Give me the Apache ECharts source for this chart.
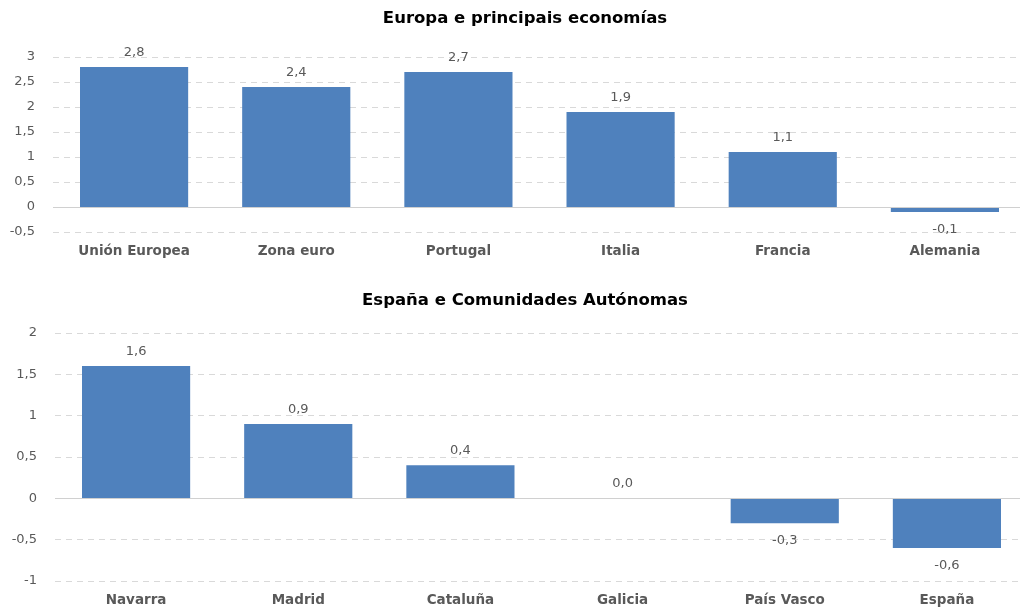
<!DOCTYPE html>
<html>
<head>
<meta charset="utf-8">
<script src="https://cdn.jsdelivr.net/npm/echarts@6/dist/echarts.min.js"></script>
<style>html,body{margin:0;padding:0;background:#fff}#c{width:1020px;height:607px}</style>
</head>
<body>
<div id="c"></div>
<script>
const titleTop = 'Europa e principais economías';
const titleBottom = 'España e Comunidades Autónomas';
const catsTop = ['Unión Europea', 'Zona euro', 'Portugal', 'Italia', 'Francia', 'Alemania'];
const valsTop = [2.8, 2.4, 2.7, 1.9, 1.1, -0.1];
const catsBottom = ['Navarra', 'Madrid', 'Cataluña', 'Galicia', 'País Vasco', 'España'];
const valsBottom = [1.6, 0.9, 0.4, 0.0, -0.3, -0.6];

const FONT = 'DejaVu Sans';
const GRAY = '#595959';
const BAR = '#4F81BD';
const comma = v => String(v).replace('.', ',');
const fmt1 = v => v.toFixed(1).replace('.', ',');

function items(vals) {
  return vals.map(v => ({ value: v, label: v < 0 ? { position: 'bottom', distance: 11 } : { position: 'top', distance: 8 } }));
}

function yAx(gi, min, max) {
  return {
    gridIndex: gi, type: 'value', min: min, max: max, interval: 0.5,
    axisLine: { show: false }, axisTick: { show: false },
    axisLabel: { color: GRAY, fontFamily: FONT, fontSize: 13, margin: 18, formatter: comma },
    splitLine: { lineStyle: { color: '#d9d9d9', type: [6, 5], width: 1 } }
  };
}
function xAx(gi, cats) {
  return {
    gridIndex: gi, type: 'category', data: cats,
    axisLine: { show: false, onZero: false }, axisTick: { show: false },
    axisLabel: { color: GRAY, fontFamily: FONT, fontSize: 13.5, fontWeight: 'bold', margin: 12, interval: 0 }
  };
}
function ser(i, vals) {
  return {
    type: 'bar', xAxisIndex: i, yAxisIndex: i, data: items(vals),
    barCategoryGap: '33.3%',
    itemStyle: { color: BAR },
    label: { show: true, color: GRAY, fontFamily: FONT, fontSize: 13, formatter: p => fmt1(p.value) },
    markLine: {
      silent: true, symbol: 'none', label: { show: false },
      lineStyle: { color: '#d0d0d0', type: 'solid', width: 1 },
      data: [{ yAxis: 0 }]
    },
    animation: false
  };
}

const chart = echarts.init(document.getElementById('c'), null, { renderer: 'canvas' });
chart.setOption({
  animation: false,
  backgroundColor: '#fff',
  title: [
    { text: titleTop, left: 520, textAlign: 'center', top: 5, textStyle: { fontFamily: FONT, fontSize: 16.5, fontWeight: 'bold', color: '#000' } },
    { text: titleBottom, left: 520, textAlign: 'center', top: 287, textStyle: { fontFamily: FONT, fontSize: 16.5, fontWeight: 'bold', color: '#000' } }
  ],
  grid: [
    { left: 53, width: 973, top: 57, height: 175, outerBoundsMode: 'none', containLabel: false },
    { left: 55, width: 973, top: 333, height: 248, outerBoundsMode: 'none', containLabel: false }
  ],
  xAxis: [xAx(0, catsTop), xAx(1, catsBottom)],
  yAxis: [yAx(0, -0.5, 3), yAx(1, -1, 2)],
  series: [ser(0, valsTop), ser(1, valsBottom)]
});
</script>
</body>
</html>
